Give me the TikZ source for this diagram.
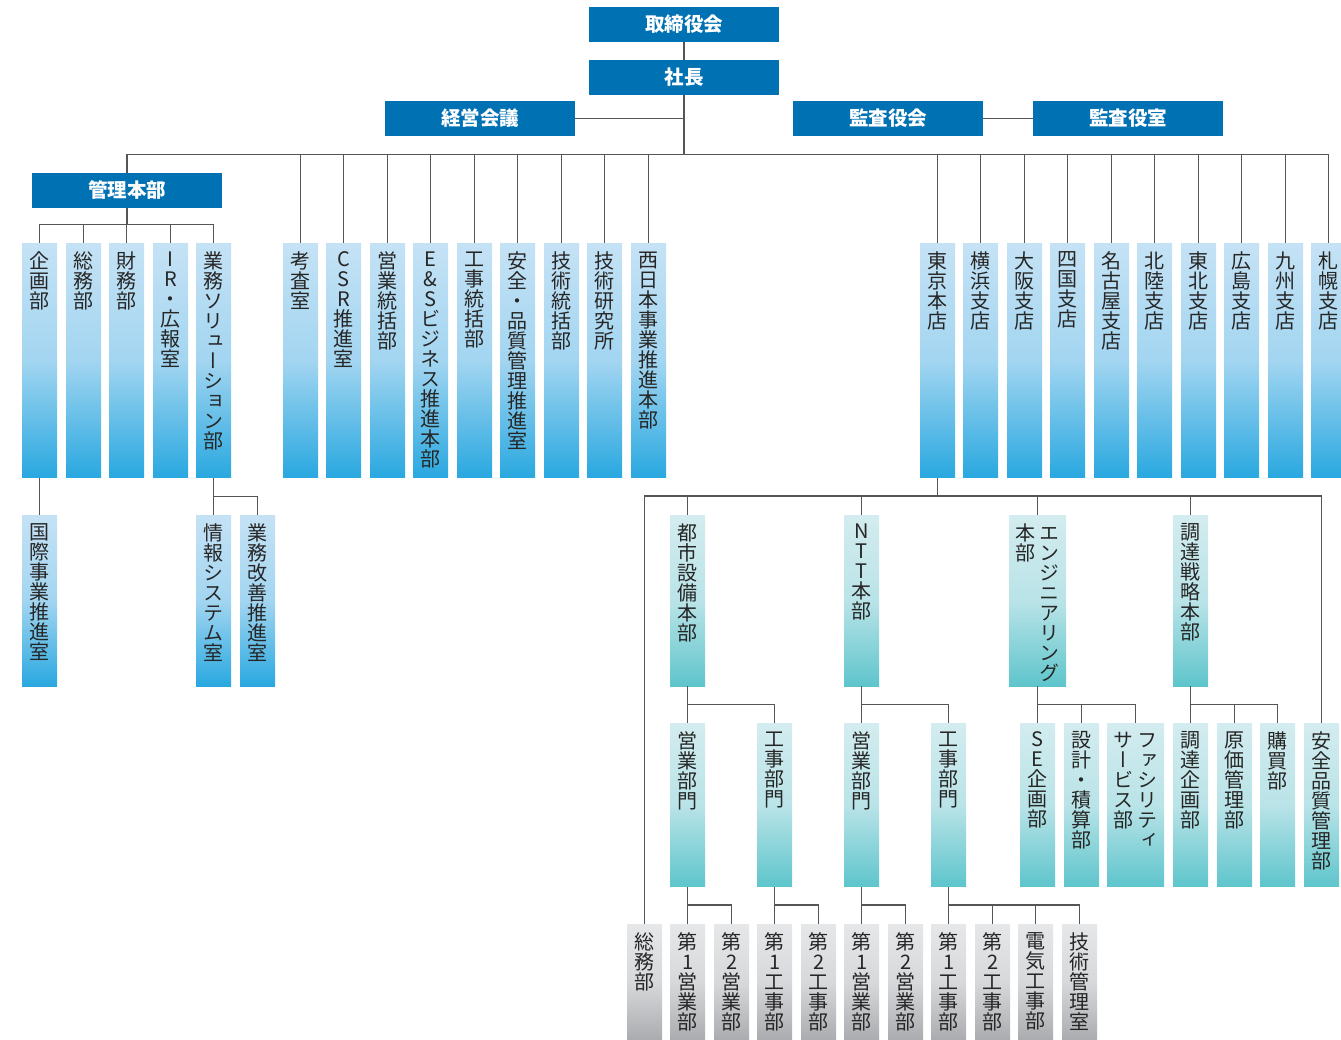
\documentclass[tikz,border=0pt]{standalone}
\usepackage{fontspec}
\newfontfamily\jpv[RawFeature=+vert]{Noto Sans CJK JP}
\newfontfamily\jph{Noto Sans CJK JP}
\definecolor{navy}{HTML}{0071B3}
\definecolor{lbtop}{HTML}{C5E2F5}
\definecolor{lbbot}{HTML}{29A8E0}
\definecolor{tltop}{HTML}{D3ECEF}
\definecolor{tlbot}{HTML}{5EC5CC}
\definecolor{grtop}{HTML}{E6E7E9}
\definecolor{grbot}{HTML}{A9AAAD}
\definecolor{linec}{HTML}{555555}
\definecolor{txt}{HTML}{262626}
\makeatletter
\newcommand\colstack[2]{\vtop{\lineskiplimit=-100pt\lineskip=0pt\@tfor\tatec:=#2\do{\hbox to #1pt{\hss\tatec\hss}}}}
\newcommand\tate[3]{\vbox to #1pt{\vskip 8.5pt\hbox to #2pt{\hss\colstack{#2}{#3}\hss}\vss}}
\newcommand\tatetwo[4]{\vbox to #1pt{\vskip 8.5pt\hbox to #2pt{\hss\colstack{24}{#3}\colstack{24}{#4}\hss}\vss}}
\makeatother
\tikzset{
  topbox/.style={fill=navy, text=white, minimum width=190, minimum height=35, inner sep=0,
    font=\jph\bfseries\fontsize{19.5}{20}\selectfont},
  vbase/.style={anchor=north west, inner sep=0, text=txt, font=\jpv\fontsize{20}{20}\selectfont},
  lb/.style={vbase, top color=lbtop, bottom color=lbbot, middle color=lbtop!78!lbbot},
  tl/.style={vbase, top color=tltop, bottom color=tlbot, middle color=tltop!78!tlbot},
  gr/.style={vbase, top color=grtop, bottom color=grbot, middle color=grtop!75!grbot},
  conn/.style={draw=linec, line width=1.1pt},
}
\begin{document}
\begin{tikzpicture}[x=1pt,y=-1pt]
\useasboundingbox (0,0) rectangle (1341,1040);
\clip (0,0) rectangle (1341,1040);
% bus coordinates
\coordinate (mainbus) at (0,154.3);
\coordinate (kbus) at (0,224.3);
\coordinate (gbus) at (0,496.7);
\coordinate (tbus) at (0,496);
\coordinate (bus3) at (0,704.7);
\coordinate (bus4) at (0,905);
% top
\node[topbox] (tori) at (684,24.5) {取締役会};
\node[topbox] (shacho) at (684,77.5) {社長};
\node[topbox] (keiei) at (480,118.5) {経営会議};
\node[topbox] (kansakai) at (888,118.5) {監査役会};
\node[topbox] (kansashitsu) at (1128,118.5) {監査役室};
\node[topbox] (kanri) at (127,190.5) {管理本部};
% level 1
\def\hA{234.5}
\node[lb] (kikaku) at (22,243) {\tate{\hA}{35}{企画部}};
\node[lb] (somu) at (66,243) {\tate{\hA}{35}{総務部}};
\node[lb] (zaimu) at (109,243) {\tate{\hA}{35}{財務部}};
\node[lb] (ir) at (153,243) {\tate{\hA}{35}{IR・広報室}};
\node[lb] (gsol) at (196,243) {\tate{\hA}{35}{業務ソリューション部}};
\node[lb] (kosa) at (283,243) {\tate{\hA}{35}{考査室}};
\node[lb] (csr) at (326,243) {\tate{\hA}{35}{CSR推進室}};
\node[lb] (eitotsu) at (370,243) {\tate{\hA}{35}{営業統括部}};
\node[lb] (es) at (413,243) {\tate{\hA}{35}{E\&Sビジネス推進本部}};
\node[lb] (kotosu) at (457,243) {\tate{\hA}{35}{工事統括部}};
\node[lb] (anzen) at (500,243) {\tate{\hA}{35}{安全・品質管理推進室}};
\node[lb] (gitotsu) at (544,243) {\tate{\hA}{35}{技術統括部}};
\node[lb] (kenkyu) at (587,243) {\tate{\hA}{35}{技術研究所}};
\node[lb] (nishi) at (631,243) {\tate{\hA}{35}{西日本事業推進本部}};
\node[lb] (tokyo) at (920,243) {\tate{\hA}{35}{東京本店}};
\node[lb] (yokohama) at (963,243) {\tate{\hA}{35}{横浜支店}};
\node[lb] (osaka) at (1007,243) {\tate{\hA}{35}{大阪支店}};
\node[lb] (shikoku) at (1050,243) {\tate{\hA}{35}{四国支店}};
\node[lb] (nagoya) at (1094,243) {\tate{\hA}{35}{名古屋支店}};
\node[lb] (hokuriku) at (1137,243) {\tate{\hA}{35}{北陸支店}};
\node[lb] (tohoku) at (1181,243) {\tate{\hA}{35}{東北支店}};
\node[lb] (hiroshima) at (1224,243) {\tate{\hA}{35}{広島支店}};
\node[lb] (kyushu) at (1268,243) {\tate{\hA}{35}{九州支店}};
\node[lb] (sapporo) at (1311,243) {\tate{\hA}{35}{札幌支店}};
% level 2
\def\hB{171}
\node[lb] (kokusai) at (22,515) {\tate{\hB}{35}{国際事業推進室}};
\node[lb] (joho) at (196,515) {\tate{\hB}{35}{情報システム室}};
\node[lb] (kaizen) at (240,515) {\tate{\hB}{35}{業務改善推進室}};
\node[tl] (toshi) at (670,515) {\tate{\hB}{35}{都市設備本部}};
\node[tl] (ntt) at (844,515) {\tate{\hB}{35}{NTT本部}};
\node[tl] (eng) at (1009,515) {\tatetwo{\hB}{57}{本部}{エンジニアリング}};
\node[tl] (chosen) at (1173,515) {\tate{\hB}{35}{調達戦略本部}};
% level 3
\def\hC{163.5}
\node[tl] (ebu1) at (670,723) {\tate{\hC}{35}{営業部門}};
\node[tl] (kbu1) at (757,723) {\tate{\hC}{35}{工事部門}};
\node[tl] (ebu2) at (844,723) {\tate{\hC}{35}{営業部門}};
\node[tl] (kbu2) at (931,723) {\tate{\hC}{35}{工事部門}};
\node[tl] (se) at (1020,723) {\tate{\hC}{35}{SE企画部}};
\node[tl] (sekkei) at (1064,723) {\tate{\hC}{35}{設計・積算部}};
\node[tl] (fac) at (1107,723) {\tatetwo{\hC}{57}{サービス部}{ファシリティ}};
\node[tl] (chokika) at (1173,723) {\tate{\hC}{35}{調達企画部}};
\node[tl] (genka) at (1217,723) {\tate{\hC}{35}{原価管理部}};
\node[tl] (kobai) at (1260,723) {\tate{\hC}{35}{購買部}};
\node[tl] (anhin) at (1304,723) {\tate{\hC}{35}{安全品質管理部}};
% level 4
\def\hD{118}
\node[gr] (somu2) at (627,924) {\tate{\hD}{35}{総務部}};
\node[gr] (ae1) at (670,924) {\tate{\hD}{35}{第1営業部}};
\node[gr] (ae2) at (714,924) {\tate{\hD}{35}{第2営業部}};
\node[gr] (ak1) at (757,924) {\tate{\hD}{35}{第1工事部}};
\node[gr] (ak2) at (801,924) {\tate{\hD}{35}{第2工事部}};
\node[gr] (be1) at (844,924) {\tate{\hD}{35}{第1営業部}};
\node[gr] (be2) at (888,924) {\tate{\hD}{35}{第2営業部}};
\node[gr] (bk1) at (931,924) {\tate{\hD}{35}{第1工事部}};
\node[gr] (bk2) at (975,924) {\tate{\hD}{35}{第2工事部}};
\node[gr] (denki) at (1018,924) {\tate{\hD}{35}{電気工事部}};
\node[gr] (gikan) at (1062,924) {\tate{\hD}{35}{技術管理室}};
% connectors: top
\draw[conn] (tori.south) -- (shacho.north);
\draw[conn] (shacho.south) -- (shacho.south |- mainbus);
\draw[conn] (keiei.east) -- (keiei.east -| shacho.south);
\draw[conn] (kansakai.east) -- (kansashitsu.west);
\draw[conn] (kanri.north) |- (sapporo.north |- mainbus) -- (sapporo.north);
\foreach \n in {kosa,csr,eitotsu,es,kotosu,anzen,gitotsu,kenkyu,nishi,tokyo,yokohama,osaka,shikoku,nagoya,hokuriku,tohoku,hiroshima,kyushu}
  \draw[conn] (\n.north) -- (\n.north |- mainbus);
% kanri
\draw[conn] (kanri.south) -- (kanri.south |- kbus);
\draw[conn] (kikaku.north) |- (gsol.north |- kbus) -- (gsol.north);
\foreach \n in {somu,zaimu,ir}
  \draw[conn] (\n.north) -- (\n.north |- kbus);
\draw[conn] (kikaku.south) -- (kokusai.north);
\draw[conn] (gsol.south) -- (joho.north);
\draw[conn] (gsol.south |- gbus) -| (kaizen.north);
% tokyo
\draw[conn] (tokyo.south) -- (tokyo.south |- tbus);
\draw[conn] (somu2.north) |- (anhin.north |- tbus) -- (anhin.north);
\foreach \n in {toshi,ntt,eng,chosen}
  \draw[conn] (\n.north) -- (\n.north |- tbus);
% level 3
\draw[conn] (toshi.south) -- (ebu1.north);
\draw[conn] (toshi.south |- bus3) -| (kbu1.north);
\draw[conn] (ntt.south) -- (ebu2.north);
\draw[conn] (ntt.south |- bus3) -| (kbu2.north);
\draw[conn] (eng.south) -- (se.north);
\draw[conn] (eng.south |- bus3) -| (fac.north);
\draw[conn] (sekkei.north) -- (sekkei.north |- bus3);
\draw[conn] (chosen.south) -- (chokika.north);
\draw[conn] (chosen.south |- bus3) -| (kobai.north);
\draw[conn] (genka.north) -- (genka.north |- bus3);
% level 4
\draw[conn] (ebu1.south) -- (ae1.north);
\draw[conn] (ebu1.south |- bus4) -| (ae2.north);
\draw[conn] (kbu1.south) -- (ak1.north);
\draw[conn] (kbu1.south |- bus4) -| (ak2.north);
\draw[conn] (ebu2.south) -- (be1.north);
\draw[conn] (ebu2.south |- bus4) -| (be2.north);
\draw[conn] (kbu2.south) -- (bk1.north);
\draw[conn] (kbu2.south |- bus4) -| (gikan.north);
\foreach \n in {bk2,denki}
  \draw[conn] (\n.north) -- (\n.north |- bus4);
\end{tikzpicture}
\end{document}
